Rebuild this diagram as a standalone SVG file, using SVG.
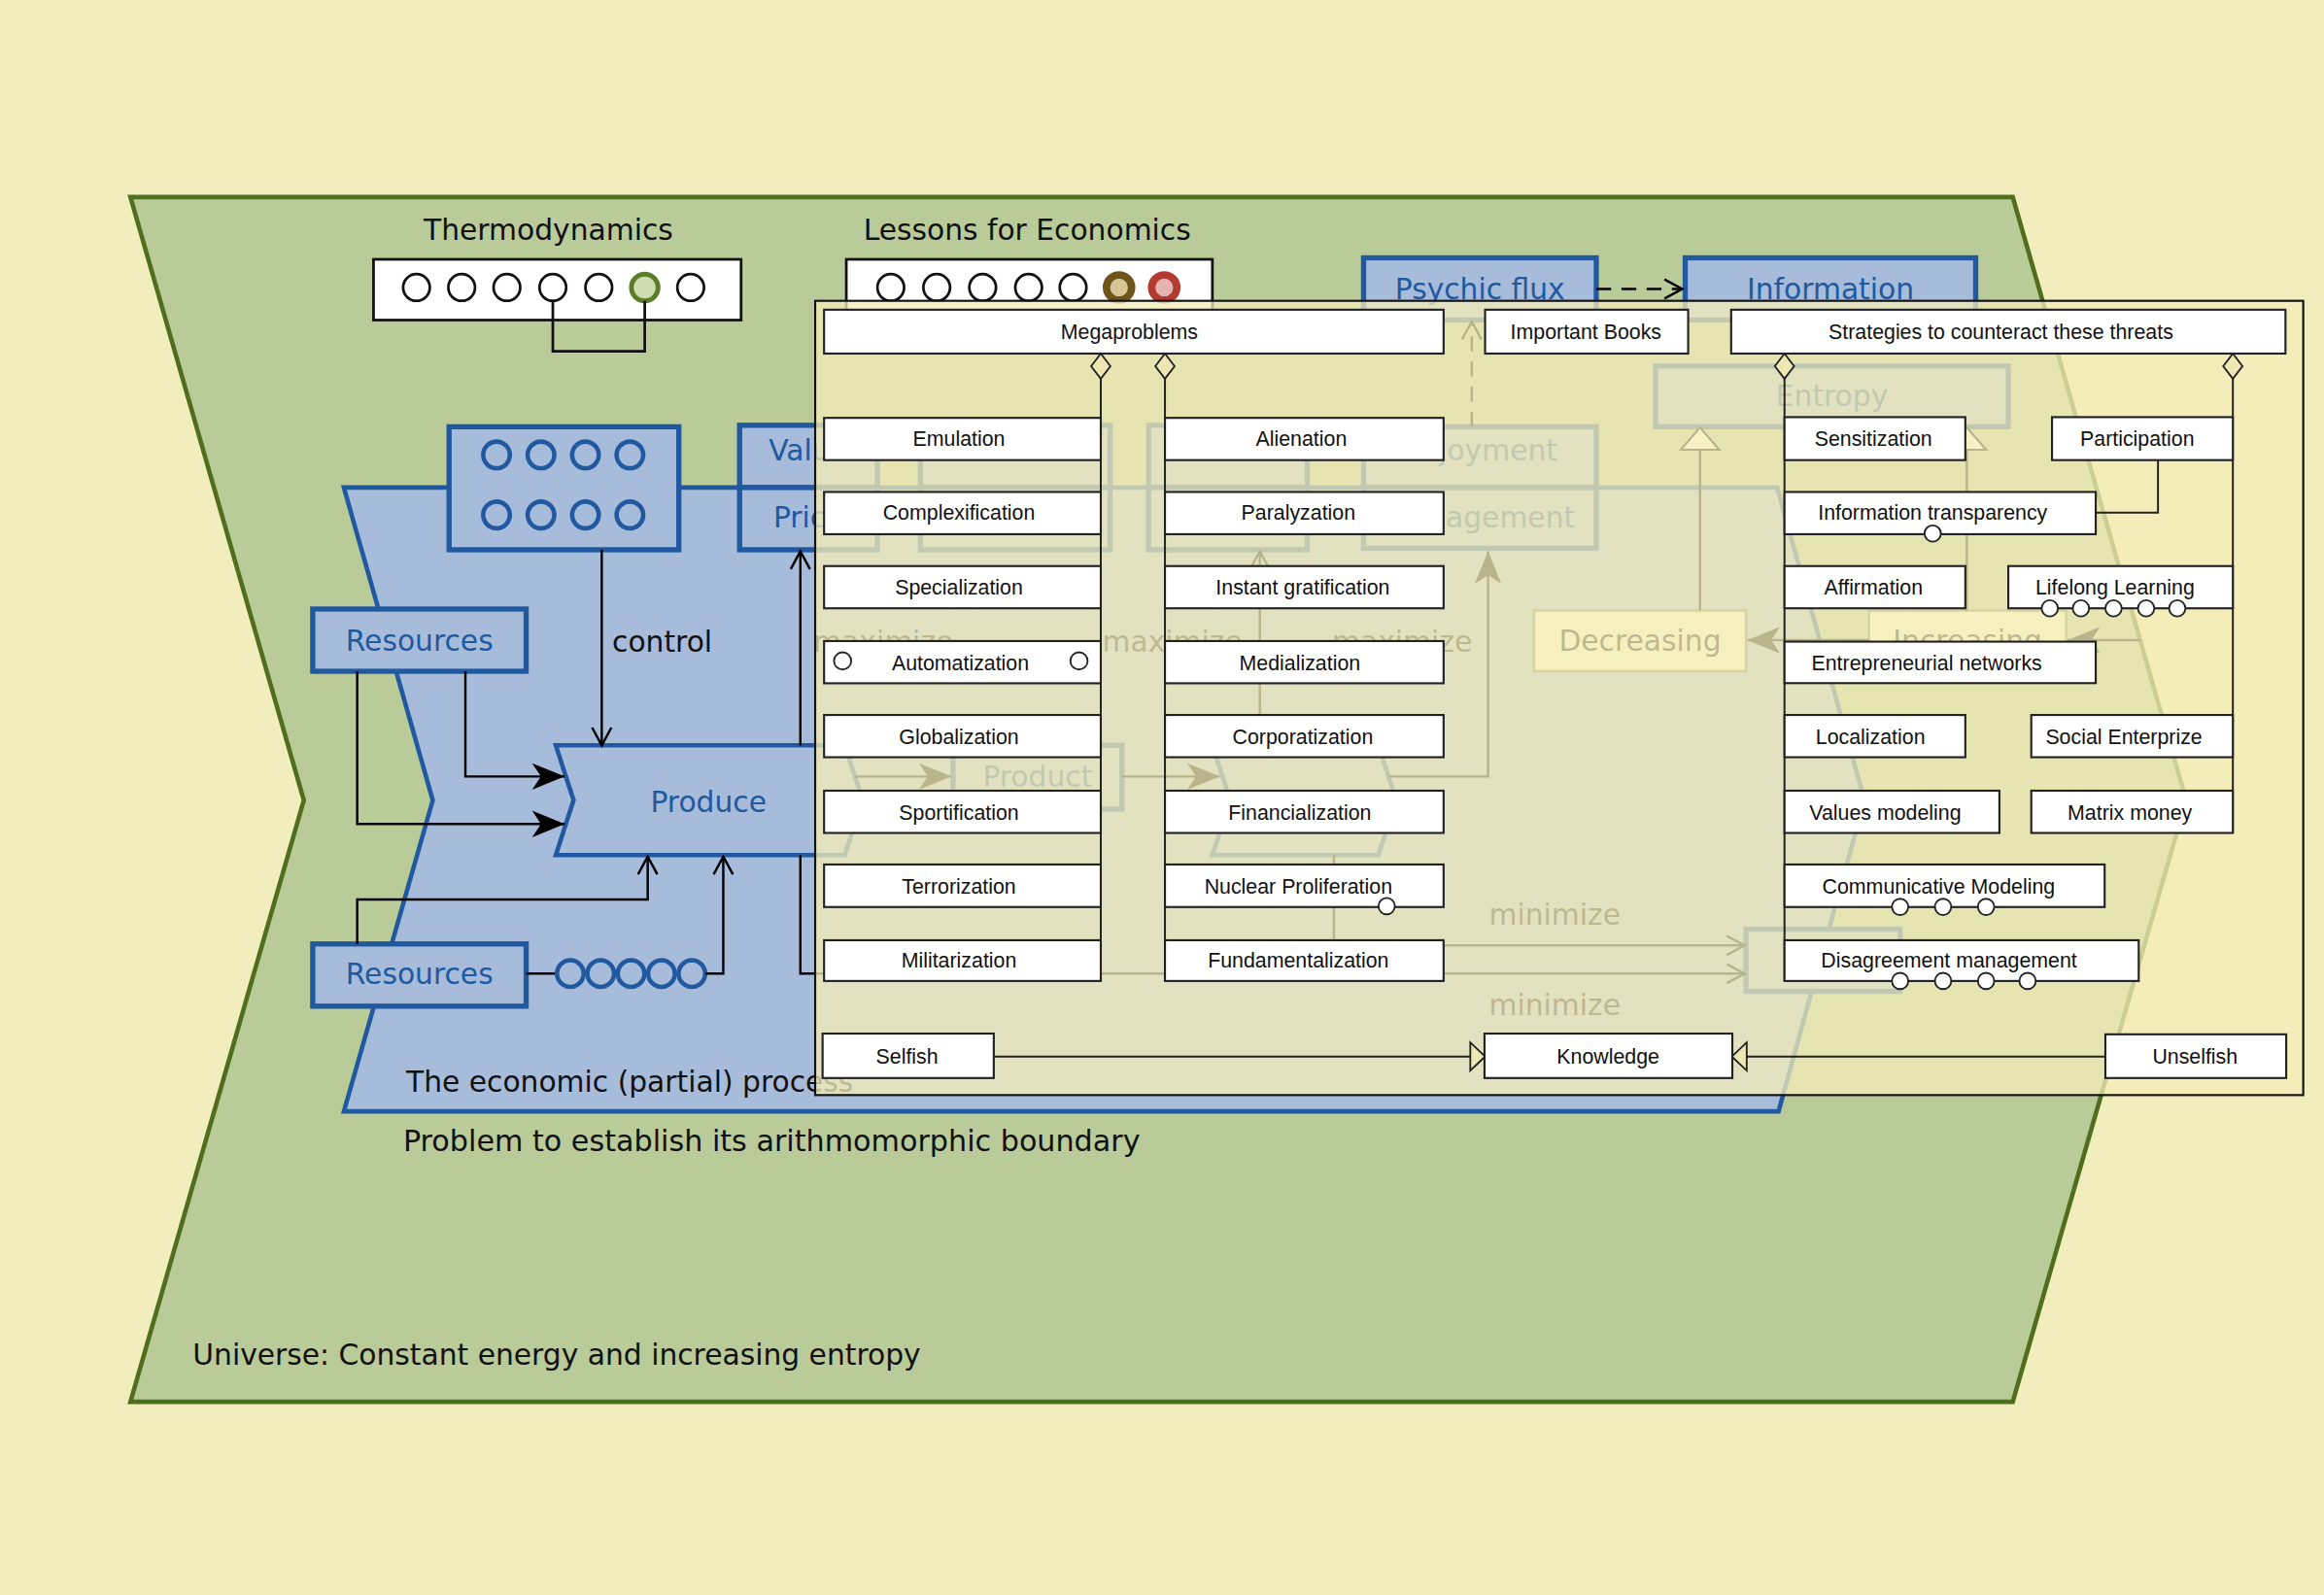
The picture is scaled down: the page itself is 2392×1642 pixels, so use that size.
<svg xmlns="http://www.w3.org/2000/svg" width="2392" height="1642" viewBox="0 0 2392 1642">
<defs>
<style>
.univ{fill:#B9CB99;stroke:#4F6F1F;stroke-width:3}
.proc{fill:#A6BCDA;stroke:#2159A0;stroke-width:3}
.bbox{fill:#A6BCDA;stroke:#2159A0;stroke-width:3.5}
.ybox{fill:#FBF9D5;stroke:#7A8068;stroke-width:1.6}
.tbox{fill:#fff;stroke:#111;stroke-width:1.8}
.t{font-family:"DejaVu Sans","Liberation Sans",sans-serif;font-size:19.5px;fill:#111;text-anchor:middle}
.ts{font-family:"DejaVu Sans","Liberation Sans",sans-serif;font-size:19.5px;fill:#111}
.tb{fill:#2159A0}
.ln{fill:none;stroke:#000;stroke-width:1.6}
.dash{stroke-dasharray:10 7}
.bc{fill:none;stroke:#2159A0;stroke-width:3}
.kc{fill:none;stroke:#111;stroke-width:1.8}
.ov{fill:#F5ECB8;fill-opacity:0.76;stroke:#111;stroke-width:1.4}
.ob{fill:#fff;stroke:#222;stroke-width:1.4}
.ot{font-family:"Liberation Sans",Arial,sans-serif;font-size:14px;fill:#111;text-anchor:middle}
.ol{fill:none;stroke:#222;stroke-width:1.3}
.sc{fill:#fff;stroke:#222;stroke-width:1.2}
.dm{fill:#EEE7B4;stroke:#222;stroke-width:1.2}
</style>
<marker id="open" markerUnits="userSpaceOnUse" markerWidth="16" markerHeight="16" refX="13" refY="8" orient="auto" overflow="visible"><path d="M1,1.5 L13,8 L1,14.5" fill="none" stroke="#000" stroke-width="1.6"/></marker>
<marker id="fill" markerUnits="userSpaceOnUse" markerWidth="24" markerHeight="20" refX="22" refY="10" orient="auto" overflow="visible"><path d="M0,1 L22,10 L0,19 L6,10 Z" fill="#000"/></marker>
<marker id="triK" markerUnits="userSpaceOnUse" markerWidth="12" markerHeight="20" refX="0" refY="9.5" orient="auto" overflow="visible"><path d="M0,0 L10,9.5 L0,19 Z" fill="#EEE7B4" stroke="#222" stroke-width="1.2"/></marker>
<marker id="triE" markerUnits="userSpaceOnUse" markerWidth="16" markerHeight="28" refX="0" refY="13" orient="auto" overflow="visible"><path d="M0,0 L15,13 L0,26 Z" fill="#FFFDE8" stroke="#000" stroke-width="1.4"/></marker>
</defs>
<rect x="0" y="0" width="2392" height="1642" fill="#F2EDBD"/>
<g transform="scale(1.52551)">
<g id="universe">
<polygon class="univ" points="88,133 1358,133 1475,540 1358,946 88,946 205,540"/>
<text class="ts" x="130" y="921">Universe: Constant energy and increasing entropy</text>
</g>
<g id="economic-process">
<polygon class="proc" points="232,329 1199,329 1258,540 1200,750 232,750 292,540"/>
<text class="ts" x="274" y="737">The economic (partial) process</text>
<text class="ts" x="272" y="777" style="font-size:19.8px">Problem to establish its arithmomorphic boundary</text>
</g>
<g id="thermodynamics">
<text class="t" x="370" y="162">Thermodynamics</text>
<rect class="tbox" x="252" y="175" width="248" height="41"/>
<g class="kc">
<circle cx="281" cy="194" r="9"/><circle cx="311.5" cy="194" r="9"/><circle cx="342" cy="194" r="9"/><circle cx="373" cy="194" r="9"/><circle cx="404" cy="194" r="9"/><circle cx="466" cy="194" r="9"/>
</g>
<circle cx="435" cy="194" r="9" fill="#CFDCB0" stroke="#5A7D25" stroke-width="3.2"/>
<path class="kc" d="M373,203 V237 H435 V203"/>
</g>
<g id="lessons">
<text class="t" x="693" y="162">Lessons for Economics</text>
<rect class="tbox" x="571" y="175" width="247" height="41"/>
<g class="kc">
<circle cx="601" cy="194" r="9"/><circle cx="632" cy="194" r="9"/><circle cx="663" cy="194" r="9"/><circle cx="694" cy="194" r="9"/><circle cx="724" cy="194" r="9"/>
</g>
<circle cx="755" cy="194" r="8.5" fill="#D6C596" stroke="#6E5418" stroke-width="5"/>
<circle cx="785.5" cy="194" r="8.5" fill="#E8B4B0" stroke="#B23A30" stroke-width="5"/>
</g>
<g id="state-box">
<rect class="bbox" x="303" y="288" width="155" height="83"/>
<g class="bc">
<circle cx="335" cy="307" r="9"/><circle cx="365" cy="307" r="9"/><circle cx="395" cy="307" r="9"/><circle cx="425" cy="307" r="9"/>
<circle cx="335" cy="347.5" r="9"/><circle cx="365" cy="347.5" r="9"/><circle cx="395" cy="347.5" r="9"/><circle cx="425" cy="347.5" r="9"/>
</g>
</g>
<g id="value-price">
<rect class="bbox" x="499" y="287" width="93" height="42"/>
<rect class="bbox" x="499" y="329" width="93" height="42"/>
<text class="t tb" x="545.5" y="311">Value</text>
<text class="t tb" x="545.5" y="356">Price</text>
</g>
<g id="box-2">
<rect class="bbox" x="621" y="287" width="128" height="42"/>
<rect class="bbox" x="621" y="329" width="128" height="42"/>
</g>
<g id="box-3">
<rect class="bbox" x="775" y="287" width="107" height="42"/>
<rect class="bbox" x="775" y="329" width="107" height="42"/>
</g>
<g id="enjoyment-management">
<rect class="bbox" x="920" y="288" width="157" height="41"/>
<rect class="bbox" x="920" y="329" width="157" height="41"/>
<text class="t tb" x="998.5" y="311">Enjoyment</text>
<text class="t tb" x="998.5" y="356">Management</text>
</g>
<g id="psychic-flux">
<rect class="bbox" x="920" y="174" width="157" height="42"/>
<text class="t tb" x="998.5" y="202">Psychic flux</text>
</g>
<g id="information">
<rect class="bbox" x="1137" y="174" width="196" height="42"/>
<text class="t tb" x="1235" y="202">Information</text>
</g>
<g id="entropy">
<rect class="bbox" x="1117" y="247" width="238" height="41"/>
<text class="t tb" x="1236" y="274">Entropy</text>
</g>
<g id="decreasing">
<rect class="ybox" x="1035" y="412" width="143" height="41"/>
<text class="t" x="1106.5" y="439">Decreasing</text>
</g>
<g id="increasing">
<rect class="ybox" x="1261" y="412" width="133" height="41"/>
<text class="t" x="1327.5" y="439">Increasing</text>
</g>
<g id="resources-1">
<rect class="bbox" x="211" y="411" width="144" height="42"/>
<text class="t tb" x="283" y="439">Resources</text>
</g>
<g id="resources-2">
<rect class="bbox" x="211" y="637" width="144" height="42"/>
<text class="t tb" x="283" y="664">Resources</text>
</g>
<g id="produce">
<polygon class="proc" points="375,503 570,503 582,540 570,577 375,577 387,540"/>
<text class="t tb" x="478" y="548">Produce</text>
</g>
<g id="product">
<rect class="bbox" x="643" y="503" width="114" height="43"/>
<text class="t tb" x="700" y="531">Product</text>
</g>
<g id="consume">
<polygon class="proc" points="818,503 930,503 942,540 930,577 818,577 830,540"/>
</g>
<g id="minimize-target">
<rect class="bbox" x="1178" y="627" width="104" height="42"/>
</g>
<g id="connectors">
<path class="ln" d="M314,453 V524 H381" marker-end="url(#fill)"/>
<path class="ln" d="M241,453 V556 H381" marker-end="url(#fill)"/>
<path class="ln" d="M406,371 V503" marker-end="url(#open)"/>
<path class="ln" d="M241,637 V607 H437 V578" marker-end="url(#open)"/>
<path class="ln" d="M355,657 H376"/>
<g class="bc">
<circle cx="384.8" cy="657" r="9"/><circle cx="405.3" cy="657" r="9"/><circle cx="425.8" cy="657" r="9"/><circle cx="446.3" cy="657" r="9"/><circle cx="466.8" cy="657" r="9"/>
</g>
<path class="ln" d="M476,657 H488 V578" marker-end="url(#open)"/>
<path class="ln" d="M540,503 V372" marker-end="url(#open)"/>
<path class="ln" d="M577,524 H642" marker-end="url(#fill)"/>
<path class="ln" d="M757,524 H823" marker-end="url(#fill)"/>
<path class="ln" d="M937,524 H1004 V372" marker-end="url(#fill)"/>
<path class="ln" d="M850,503 V372" marker-end="url(#open)"/>
<path class="ln" d="M900,577 V638 H1177" marker-end="url(#open)"/>
<path class="ln" d="M540,577 V657 H1177" marker-end="url(#open)"/>
<path class="ln dash" d="M1077,195 H1135" marker-end="url(#open)"/>
<path class="ln dash" d="M993,288 V217" marker-end="url(#open)"/>
<path class="ln" d="M1147,412 V303.5" marker-end="url(#triE)"/>
<path class="ln" d="M1327,412 V303.5" marker-end="url(#triE)"/>
<path class="ln" d="M1261,432 H1179" marker-end="url(#fill)"/>
<path class="ln" d="M1444,432 H1395" marker-end="url(#fill)"/>
<text class="ts" x="413" y="440">control</text>
<text class="t" x="596" y="440">maximize</text>
<text class="t" x="791" y="440">maximize</text>
<text class="t" x="946" y="440">maximize</text>
<text class="t" x="1049" y="624">minimize</text>
<text class="t" x="1049" y="685">minimize</text>
</g>
<g id="overlay-panel">
<rect class="ov" x="550" y="203" width="1004" height="536"/>
</g>
<g id="overlay-connectors">
<path class="ol" d="M742.7,255.6 V662"/>
<path class="ol" d="M786,255.6 V662"/>
<path class="ol" d="M1204,255.6 V662"/>
<path class="ol" d="M1506.5,255.6 V562"/>
<path class="ol" d="M1456,310 V346 H1414"/>
<path class="ol" d="M670.5,713 H992" marker-end="url(#triK)"/>
<path class="ol" d="M1420.5,713 H1178.5" marker-end="url(#triK)"/>
<polygon class="dm" points="742.7,238.6 749.2,247.1 742.7,255.6 736.2,247.1"/>
<polygon class="dm" points="786,238.6 792.5,247.1 786,255.6 779.5,247.1"/>
<polygon class="dm" points="1204,238.6 1210.5,247.1 1204,255.6 1197.5,247.1"/>
<polygon class="dm" points="1506.5,238.6 1513,247.1 1506.5,255.6 1500,247.1"/>
</g>
<g id="megaproblems"><rect class="ob" x="556" y="209" width="418" height="29.6"/><text class="ot" x="762" y="229">Megaproblems</text></g>
<g id="important-books"><rect class="ob" x="1002" y="209" width="137" height="29.6"/><text class="ot" x="1070" y="229">Important Books</text></g>
<g id="strategies"><rect class="ob" x="1168" y="209" width="374" height="29.6"/><text class="ot" x="1350" y="229">Strategies to counteract these threats</text></g>
<g id="emulation"><rect class="ob" x="556" y="282" width="186.7" height="28.5"/><text class="ot" x="647" y="301">Emulation</text></g>
<g id="alienation"><rect class="ob" x="786" y="282" width="188" height="28.5"/><text class="ot" x="878" y="301">Alienation</text></g>
<g id="sensitization"><rect class="ob" x="1204" y="281.5" width="122" height="29"/><text class="ot" x="1264" y="301">Sensitization</text></g>
<g id="participation"><rect class="ob" x="1384.5" y="281.5" width="122" height="29"/><text class="ot" x="1442" y="301">Participation</text></g>
<g id="complexification"><rect class="ob" x="556" y="332" width="186.7" height="28.5"/><text class="ot" x="647" y="351">Complexification</text></g>
<g id="paralyzation"><rect class="ob" x="786" y="332" width="188" height="28.5"/><text class="ot" x="876" y="351">Paralyzation</text></g>
<g id="information-transparency"><rect class="ob" x="1204" y="332" width="210" height="28.5"/><text class="ot" x="1304" y="351">Information transparency</text><circle class="sc" cx="1304" cy="360" r="5.5"/></g>
<g id="specialization"><rect class="ob" x="556" y="382" width="186.7" height="28.5"/><text class="ot" x="647" y="401">Specialization</text></g>
<g id="instant-gratification"><rect class="ob" x="786" y="382" width="188" height="28.5"/><text class="ot" x="879" y="401">Instant gratification</text></g>
<g id="affirmation"><rect class="ob" x="1204" y="382" width="122" height="28.5"/><text class="ot" x="1264" y="401">Affirmation</text></g>
<g id="lifelong-learning"><rect class="ob" x="1355" y="382" width="151.5" height="28.5"/><text class="ot" x="1427" y="401">Lifelong Learning</text>
<circle class="sc" cx="1383" cy="410.5" r="5.5"/><circle class="sc" cx="1404" cy="410.5" r="5.5"/><circle class="sc" cx="1426" cy="410.5" r="5.5"/><circle class="sc" cx="1448" cy="410.5" r="5.5"/><circle class="sc" cx="1469" cy="410.5" r="5.5"/></g>
<g id="automatization"><rect class="ob" x="556" y="432.6" width="186.7" height="28.5"/><text class="ot" x="648" y="452">Automatization</text><circle class="sc" cx="568.5" cy="446" r="5.8"/><circle class="sc" cx="728" cy="446" r="5.8"/></g>
<g id="medialization"><rect class="ob" x="786" y="432.6" width="188" height="28.5"/><text class="ot" x="877" y="452">Medialization</text></g>
<g id="entrepreneurial-networks"><rect class="ob" x="1204" y="433" width="210" height="28"/><text class="ot" x="1300" y="452">Entrepreneurial networks</text></g>
<g id="globalization"><rect class="ob" x="556" y="482.5" width="186.7" height="28.5"/><text class="ot" x="647" y="502">Globalization</text></g>
<g id="corporatization"><rect class="ob" x="786" y="482.5" width="188" height="28.5"/><text class="ot" x="879" y="502">Corporatization</text></g>
<g id="localization"><rect class="ob" x="1204" y="482.5" width="122" height="28.5"/><text class="ot" x="1262" y="502">Localization</text></g>
<g id="social-enterprize"><rect class="ob" x="1370.5" y="482.5" width="136" height="28.5"/><text class="ot" x="1433" y="502">Social Enterprize</text></g>
<g id="sportification"><rect class="ob" x="556" y="533.6" width="186.7" height="28.5"/><text class="ot" x="647" y="553">Sportification</text></g>
<g id="financialization"><rect class="ob" x="786" y="533.6" width="188" height="28.5"/><text class="ot" x="877" y="553">Financialization</text></g>
<g id="values-modeling"><rect class="ob" x="1204" y="533.6" width="145" height="28.5"/><text class="ot" x="1272" y="553">Values modeling</text></g>
<g id="matrix-money"><rect class="ob" x="1370.5" y="533.6" width="136" height="28.5"/><text class="ot" x="1437" y="553">Matrix money</text></g>
<g id="terrorization"><rect class="ob" x="556" y="583.4" width="186.7" height="28.7"/><text class="ot" x="647" y="603">Terrorization</text></g>
<g id="nuclear-proliferation"><rect class="ob" x="786" y="583.4" width="188" height="28.7"/><text class="ot" x="876" y="603">Nuclear Proliferation</text><circle class="sc" cx="935.6" cy="611.5" r="5.5"/></g>
<g id="communicative-modeling"><rect class="ob" x="1204" y="583.4" width="216" height="28.7"/><text class="ot" x="1308" y="603">Communicative Modeling</text>
<circle class="sc" cx="1282" cy="612" r="5.5"/><circle class="sc" cx="1311" cy="612" r="5.5"/><circle class="sc" cx="1340" cy="612" r="5.5"/></g>
<g id="militarization"><rect class="ob" x="556" y="634.5" width="186.7" height="27.5"/><text class="ot" x="647" y="653">Militarization</text></g>
<g id="fundamentalization"><rect class="ob" x="786" y="634.5" width="188" height="27.5"/><text class="ot" x="876" y="653">Fundamentalization</text></g>
<g id="disagreement-management"><rect class="ob" x="1204" y="634.5" width="239" height="27.5"/><text class="ot" x="1315" y="653">Disagreement management</text>
<circle class="sc" cx="1282" cy="662" r="5.5"/><circle class="sc" cx="1311" cy="662" r="5.5"/><circle class="sc" cx="1340" cy="662" r="5.5"/><circle class="sc" cx="1368" cy="662" r="5.5"/></g>
<g id="selfish"><rect class="ob" x="555" y="697.5" width="115.5" height="30"/><text class="ot" x="612" y="717.5">Selfish</text></g>
<g id="knowledge"><rect class="ob" x="1001.6" y="697.5" width="167.2" height="30"/><text class="ot" x="1085" y="717.5">Knowledge</text></g>
<g id="unselfish"><rect class="ob" x="1420.5" y="698" width="122" height="29.5"/><text class="ot" x="1481" y="717.5">Unselfish</text></g>
</g>
</svg>
